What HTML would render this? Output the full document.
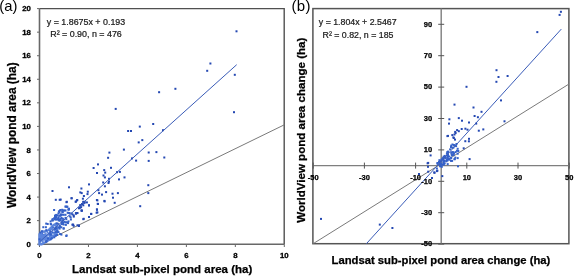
<!DOCTYPE html><html><head><meta charset="utf-8"><style>html,body{margin:0;padding:0;background:#fff;width:575px;height:276px;overflow:hidden}svg{display:block;will-change:transform}text{font-family:"Liberation Sans",sans-serif}</style></head><body>
<svg width="575" height="276" viewBox="0 0 575 276">
<rect width="575" height="276" fill="#fff"/>
<path d="M39.5 8.6H284.2V244.2" fill="none" stroke="#505050" stroke-width="1.4"/>
<path d="M39.5 8.6V244.2H284.3" fill="none" stroke="#686868" stroke-width="1.6"/>
<path d="M37 244.20H39.5M37 220.64H39.5M37 197.08H39.5M37 173.52H39.5M37 149.96H39.5M37 126.40H39.5M37 102.84H39.5M37 79.28H39.5M37 55.72H39.5M37 32.16H39.5M37 8.60H39.5M39.50 244.2V247M88.46 244.2V247M137.42 244.2V247M186.38 244.2V247M235.34 244.2V247M284.30 244.2V247" stroke="#686868" stroke-width="1"/>
<line x1="39.5" y1="244.2" x2="284.3" y2="124.8" stroke="#7a7a7a" stroke-width="1"/>
<polygon points="38.3,245.5 38.3,233.5 39.5,233 42,230.5 47,230 50,227 53,224 56,222.5 58,226 58.5,231 57,235.5 52,239.5 47,242.5 42,245.5" fill="#5b84dc"/>
<g fill="#2448b2">
<rect x="235.5" y="30.3" width="2.0" height="2.0"/>
<rect x="209.4" y="62.5" width="2.0" height="2.0"/>
<rect x="206.2" y="69.8" width="2.0" height="2.0"/>
<rect x="233.8" y="73.8" width="2.0" height="2.0"/>
<rect x="174.4" y="87.8" width="2.0" height="2.0"/>
<rect x="233.0" y="111.2" width="2.0" height="2.0"/>
<rect x="158.1" y="91.2" width="2.0" height="2.0"/>
<rect x="114.7" y="107.9" width="2.0" height="2.0"/>
<rect x="152.2" y="123.0" width="2.0" height="2.0"/>
<rect x="138.8" y="125.6" width="2.0" height="2.0"/>
<rect x="127.1" y="130.0" width="2.0" height="2.0"/>
<rect x="130.0" y="130.0" width="2.0" height="2.0"/>
<rect x="162.0" y="129.2" width="2.0" height="2.0"/>
<rect x="141.3" y="139.1" width="2.0" height="2.0"/>
<rect x="137.7" y="141.4" width="2.0" height="2.0"/>
<rect x="122.9" y="148.6" width="2.0" height="2.0"/>
<rect x="155.4" y="151.1" width="2.0" height="2.0"/>
<rect x="163.3" y="156.5" width="2.0" height="2.0"/>
<rect x="147.7" y="151.5" width="2.0" height="2.0"/>
<rect x="131.0" y="157.4" width="2.0" height="2.0"/>
<rect x="135.1" y="159.6" width="2.0" height="2.0"/>
<rect x="147.7" y="159.9" width="2.0" height="2.0"/>
<rect x="110.0" y="166.8" width="2.0" height="2.0"/>
<rect x="116.0" y="171.2" width="2.0" height="2.0"/>
<rect x="118.9" y="170.9" width="2.0" height="2.0"/>
<rect x="123.5" y="176.4" width="2.0" height="2.0"/>
<rect x="118.0" y="178.4" width="2.0" height="2.0"/>
<rect x="147.3" y="184.2" width="2.0" height="2.0"/>
<rect x="147.3" y="192.1" width="2.0" height="2.0"/>
<rect x="139.2" y="205.2" width="2.0" height="2.0"/>
<rect x="108.4" y="151.6" width="2.0" height="2.0"/>
<rect x="107.1" y="156.8" width="2.0" height="2.0"/>
<rect x="97.0" y="163.4" width="2.0" height="2.0"/>
<rect x="92.6" y="167.0" width="2.0" height="2.0"/>
<rect x="96.0" y="172.0" width="2.0" height="2.0"/>
<rect x="103.2" y="169.1" width="2.0" height="2.0"/>
<rect x="104.2" y="171.6" width="2.0" height="2.0"/>
<rect x="102.5" y="174.5" width="2.0" height="2.0"/>
<rect x="103.9" y="176.4" width="2.0" height="2.0"/>
<rect x="108.0" y="177.8" width="2.0" height="2.0"/>
<rect x="102.2" y="181.5" width="2.0" height="2.0"/>
<rect x="108.0" y="180.5" width="2.0" height="2.0"/>
<rect x="107.5" y="182.0" width="2.0" height="2.0"/>
<rect x="68.0" y="186.3" width="2.0" height="2.0"/>
<rect x="80.4" y="187.5" width="2.0" height="2.0"/>
<rect x="88.0" y="183.4" width="2.0" height="2.0"/>
<rect x="103.9" y="185.3" width="2.0" height="2.0"/>
<rect x="79.3" y="191.4" width="2.0" height="2.0"/>
<rect x="80.7" y="192.1" width="2.0" height="2.0"/>
<rect x="86.8" y="190.7" width="2.0" height="2.0"/>
<rect x="86.5" y="193.1" width="2.0" height="2.0"/>
<rect x="97.4" y="189.2" width="2.0" height="2.0"/>
<rect x="98.1" y="192.1" width="2.0" height="2.0"/>
<rect x="101.0" y="193.6" width="2.0" height="2.0"/>
<rect x="105.1" y="191.1" width="2.0" height="2.0"/>
<rect x="82.9" y="195.0" width="2.0" height="2.0"/>
<rect x="70.6" y="197.2" width="2.0" height="2.0"/>
<rect x="76.1" y="199.4" width="2.0" height="2.0"/>
<rect x="74.7" y="200.8" width="2.0" height="2.0"/>
<rect x="82.2" y="200.8" width="2.0" height="2.0"/>
<rect x="83.6" y="201.8" width="2.0" height="2.0"/>
<rect x="81.0" y="203.0" width="2.0" height="2.0"/>
<rect x="79.3" y="204.1" width="2.0" height="2.0"/>
<rect x="88.0" y="204.4" width="2.0" height="2.0"/>
<rect x="96.4" y="199.4" width="2.0" height="2.0"/>
<rect x="97.0" y="203.0" width="2.0" height="2.0"/>
<rect x="103.6" y="200.4" width="2.0" height="2.0"/>
<rect x="65.5" y="201.2" width="2.0" height="2.0"/>
<rect x="59.7" y="198.6" width="2.0" height="2.0"/>
<rect x="78.6" y="207.0" width="2.0" height="2.0"/>
<rect x="80.7" y="209.5" width="2.0" height="2.0"/>
<rect x="96.0" y="208.8" width="2.0" height="2.0"/>
<rect x="96.4" y="211.4" width="2.0" height="2.0"/>
<rect x="90.2" y="212.8" width="2.0" height="2.0"/>
<rect x="76.4" y="212.0" width="2.0" height="2.0"/>
<rect x="111.5" y="192.7" width="2.0" height="2.0"/>
<rect x="116.9" y="192.1" width="2.0" height="2.0"/>
<rect x="112.0" y="196.7" width="2.0" height="2.0"/>
<rect x="113.7" y="201.8" width="2.0" height="2.0"/>
<rect x="85.9" y="201.4" width="2.0" height="2.0"/>
<rect x="88.0" y="204.3" width="2.0" height="2.0"/>
<rect x="95.9" y="199.0" width="2.0" height="2.0"/>
<rect x="96.7" y="202.8" width="2.0" height="2.0"/>
<rect x="103.4" y="199.9" width="2.0" height="2.0"/>
<rect x="95.9" y="208.3" width="2.0" height="2.0"/>
<rect x="95.6" y="211.7" width="2.0" height="2.0"/>
<rect x="90.2" y="213.0" width="2.0" height="2.0"/>
<rect x="88.0" y="216.0" width="2.0" height="2.0"/>
<rect x="70.6" y="197.3" width="2.0" height="2.0"/>
<rect x="81.9" y="197.7" width="2.0" height="2.0"/>
<rect x="76.2" y="199.0" width="2.0" height="2.0"/>
<rect x="74.9" y="200.5" width="2.0" height="2.0"/>
<rect x="65.8" y="200.8" width="2.0" height="2.0"/>
<rect x="82.7" y="201.7" width="2.0" height="2.0"/>
<rect x="83.6" y="200.8" width="2.0" height="2.0"/>
<rect x="81.4" y="203.0" width="2.0" height="2.0"/>
<rect x="79.7" y="204.3" width="2.0" height="2.0"/>
<rect x="82.3" y="204.3" width="2.0" height="2.0"/>
<rect x="78.8" y="206.4" width="2.0" height="2.0"/>
<rect x="78.0" y="207.3" width="2.0" height="2.0"/>
<rect x="80.6" y="209.5" width="2.0" height="2.0"/>
<rect x="74.9" y="212.1" width="2.0" height="2.0"/>
<rect x="76.2" y="212.1" width="2.0" height="2.0"/>
<rect x="72.7" y="214.4" width="2.0" height="2.0"/>
<rect x="82.3" y="218.2" width="2.0" height="2.0"/>
<rect x="71.4" y="223.7" width="2.0" height="2.0"/>
<rect x="72.7" y="224.8" width="2.0" height="2.0"/>
<rect x="78.0" y="224.5" width="2.0" height="2.0"/>
<rect x="72.1" y="223.6" width="2.0" height="2.0"/>
<rect x="76.5" y="224.3" width="2.0" height="2.0"/>
<rect x="82.7" y="217.8" width="2.0" height="2.0"/>
<rect x="77.9" y="225.0" width="2.0" height="2.0"/>
<rect x="72.8" y="215.6" width="2.0" height="2.0"/>
<rect x="75.0" y="212.7" width="2.0" height="2.0"/>
<rect x="71.4" y="213.4" width="2.0" height="2.0"/>
<rect x="80.1" y="206.2" width="2.0" height="2.0"/>
<rect x="80.8" y="209.8" width="2.0" height="2.0"/>
<rect x="54.8" y="198.8" width="2.0" height="2.0"/>
<rect x="58.7" y="198.8" width="2.0" height="2.0"/>
<rect x="51.5" y="190.0" width="2.0" height="2.0"/>
</g>
<g fill="#3561c8">
<rect x="64.8" y="205.6" width="2.0" height="2.0"/>
<rect x="66.2" y="205.9" width="2.0" height="2.0"/>
<rect x="67.7" y="208.5" width="2.0" height="2.0"/>
<rect x="61.2" y="208.8" width="2.0" height="2.0"/>
<rect x="63.3" y="209.5" width="2.0" height="2.0"/>
<rect x="59.0" y="209.5" width="2.0" height="2.0"/>
<rect x="64.5" y="205.6" width="2.0" height="2.0"/>
<rect x="66.2" y="205.6" width="2.0" height="2.0"/>
<rect x="68.0" y="207.7" width="2.0" height="2.0"/>
<rect x="67.5" y="208.6" width="2.0" height="2.0"/>
<rect x="62.3" y="209.5" width="2.0" height="2.0"/>
<rect x="64.5" y="209.5" width="2.0" height="2.0"/>
<rect x="66.7" y="211.7" width="2.0" height="2.0"/>
<rect x="67.5" y="212.1" width="2.0" height="2.0"/>
<rect x="70.6" y="212.5" width="2.0" height="2.0"/>
<rect x="62.7" y="213.8" width="2.0" height="2.0"/>
<rect x="64.5" y="213.8" width="2.0" height="2.0"/>
<rect x="68.8" y="215.3" width="2.0" height="2.0"/>
<rect x="69.7" y="216.4" width="2.0" height="2.0"/>
<rect x="64.5" y="216.9" width="2.0" height="2.0"/>
<rect x="65.3" y="218.2" width="2.0" height="2.0"/>
<rect x="61.9" y="217.7" width="2.0" height="2.0"/>
<rect x="61.9" y="221.3" width="2.0" height="2.0"/>
<rect x="63.6" y="220.9" width="2.0" height="2.0"/>
<rect x="66.2" y="221.3" width="2.0" height="2.0"/>
<rect x="67.5" y="220.4" width="2.0" height="2.0"/>
<rect x="62.7" y="223.5" width="2.0" height="2.0"/>
<rect x="64.9" y="223.9" width="2.0" height="2.0"/>
<rect x="62.6" y="227.7" width="2.0" height="2.0"/>
<rect x="65.3" y="235.0" width="2.0" height="2.0"/>
<rect x="59.1" y="233.0" width="2.0" height="2.0"/>
<rect x="65.6" y="234.4" width="2.0" height="2.0"/>
<rect x="55.4" y="227.2" width="2.0" height="2.0"/>
<rect x="56.9" y="222.8" width="2.0" height="2.0"/>
<rect x="59.1" y="225.7" width="2.0" height="2.0"/>
<rect x="62.7" y="227.2" width="2.0" height="2.0"/>
<rect x="64.9" y="221.4" width="2.0" height="2.0"/>
<rect x="67.0" y="222.1" width="2.0" height="2.0"/>
<rect x="69.9" y="218.5" width="2.0" height="2.0"/>
<rect x="68.5" y="212.0" width="2.0" height="2.0"/>
<rect x="67.8" y="208.1" width="2.0" height="2.0"/>
<rect x="53.1" y="209.0" width="2.0" height="2.0"/>
<rect x="57.9" y="210.3" width="2.0" height="2.0"/>
<rect x="59.6" y="209.0" width="2.0" height="2.0"/>
<rect x="58.4" y="211.4" width="2.0" height="2.0"/>
<rect x="54.8" y="214.3" width="2.0" height="2.0"/>
<rect x="54.0" y="215.6" width="2.0" height="2.0"/>
<rect x="58.3" y="214.7" width="2.0" height="2.0"/>
<rect x="57.4" y="216.4" width="2.0" height="2.0"/>
<rect x="53.1" y="217.3" width="2.0" height="2.0"/>
<rect x="60.0" y="213.8" width="2.0" height="2.0"/>
<rect x="60.5" y="216.9" width="2.0" height="2.0"/>
<rect x="55.3" y="218.6" width="2.0" height="2.0"/>
<rect x="58.7" y="219.0" width="2.0" height="2.0"/>
<rect x="56.5" y="214.4" width="2.0" height="2.0"/>
<rect x="45.2" y="222.6" width="2.0" height="2.0"/>
<rect x="46.7" y="223.0" width="2.0" height="2.0"/>
<rect x="42.3" y="226.2" width="2.0" height="2.0"/>
<rect x="44.9" y="226.2" width="2.0" height="2.0"/>
<rect x="40.9" y="230.2" width="2.0" height="2.0"/>
<rect x="55.4" y="213.9" width="2.0" height="2.0"/>
<rect x="54.3" y="216.1" width="2.0" height="2.0"/>
<rect x="60.4" y="233.6" width="2.0" height="2.0"/>
<rect x="53.3" y="236.3" width="2.0" height="2.0"/>
<rect x="60.7" y="223.1" width="2.0" height="2.0"/>
<rect x="58.6" y="227.6" width="2.0" height="2.0"/>
<rect x="61.4" y="222.9" width="2.0" height="2.0"/>
<rect x="55.1" y="216.0" width="2.0" height="2.0"/>
<rect x="51.9" y="219.4" width="2.0" height="2.0"/>
<rect x="57.4" y="212.4" width="2.0" height="2.0"/>
<rect x="57.5" y="217.2" width="2.0" height="2.0"/>
<rect x="62.3" y="219.1" width="2.0" height="2.0"/>
<rect x="56.5" y="218.1" width="2.0" height="2.0"/>
<rect x="54.2" y="216.8" width="2.0" height="2.0"/>
<rect x="59.8" y="213.5" width="2.0" height="2.0"/>
<rect x="60.6" y="221.5" width="2.0" height="2.0"/>
<rect x="61.2" y="210.8" width="2.0" height="2.0"/>
<rect x="61.9" y="222.0" width="2.0" height="2.0"/>
<rect x="59.9" y="217.8" width="2.0" height="2.0"/>
<rect x="59.5" y="214.8" width="2.0" height="2.0"/>
<rect x="49.6" y="220.4" width="2.0" height="2.0"/>
<rect x="54.1" y="215.5" width="2.0" height="2.0"/>
<rect x="54.7" y="217.7" width="2.0" height="2.0"/>
<rect x="49.7" y="222.9" width="2.0" height="2.0"/>
<rect x="54.0" y="218.4" width="2.0" height="2.0"/>
<rect x="57.5" y="219.2" width="2.0" height="2.0"/>
<rect x="59.2" y="219.2" width="2.0" height="2.0"/>
<rect x="57.9" y="226.6" width="2.0" height="2.0"/>
<rect x="61.8" y="211.2" width="2.0" height="2.0"/>
<rect x="58.8" y="224.5" width="2.0" height="2.0"/>
<rect x="58.5" y="219.7" width="2.0" height="2.0"/>
<rect x="54.0" y="214.7" width="2.0" height="2.0"/>
<rect x="51.2" y="219.3" width="2.0" height="2.0"/>
<rect x="60.3" y="226.3" width="2.0" height="2.0"/>
<rect x="61.2" y="220.0" width="2.0" height="2.0"/>
<rect x="61.1" y="213.7" width="2.0" height="2.0"/>
<rect x="50.1" y="223.4" width="2.0" height="2.0"/>
<rect x="51.6" y="218.1" width="2.0" height="2.0"/>
<rect x="57.5" y="231.1" width="2.0" height="2.0"/>
<rect x="55.7" y="222.3" width="2.0" height="2.0"/>
<rect x="58.5" y="225.7" width="2.0" height="2.0"/>
<rect x="58.1" y="218.4" width="2.0" height="2.0"/>
<rect x="54.3" y="227.9" width="2.0" height="2.0"/>
<rect x="45.3" y="229.1" width="2.0" height="2.0"/>
<rect x="49.6" y="238.3" width="2.0" height="2.0"/>
<rect x="45.7" y="240.2" width="2.0" height="2.0"/>
<rect x="47.0" y="237.6" width="2.0" height="2.0"/>
<rect x="49.3" y="233.2" width="2.0" height="2.0"/>
<rect x="49.8" y="233.6" width="2.0" height="2.0"/>
<rect x="52.6" y="226.5" width="2.0" height="2.0"/>
<rect x="56.1" y="231.1" width="2.0" height="2.0"/>
<rect x="50.8" y="237.2" width="2.0" height="2.0"/>
<rect x="38.5" y="238.3" width="2.0" height="2.0"/>
<rect x="52.1" y="231.3" width="2.0" height="2.0"/>
<rect x="49.2" y="230.5" width="2.0" height="2.0"/>
<rect x="42.5" y="232.2" width="2.0" height="2.0"/>
<rect x="39.3" y="231.5" width="2.0" height="2.0"/>
<rect x="51.7" y="230.1" width="2.0" height="2.0"/>
<rect x="54.7" y="234.6" width="2.0" height="2.0"/>
<rect x="45.1" y="240.8" width="2.0" height="2.0"/>
<rect x="56.1" y="234.0" width="2.0" height="2.0"/>
<rect x="53.7" y="227.6" width="2.0" height="2.0"/>
<rect x="56.2" y="229.9" width="2.0" height="2.0"/>
<rect x="54.0" y="231.1" width="2.0" height="2.0"/>
</g>
<g fill="#dfe8f8">
<rect x="43.1" y="232.8" width="1.2" height="1.2"/>
<rect x="52.3" y="233.6" width="1.2" height="1.2"/>
<rect x="47.6" y="235.7" width="1.2" height="1.2"/>
<rect x="45.6" y="232.2" width="1.2" height="1.2"/>
<rect x="53.3" y="231.0" width="1.2" height="1.2"/>
<rect x="43.5" y="240.5" width="1.2" height="1.2"/>
<rect x="52.6" y="230.4" width="1.2" height="1.2"/>
<rect x="46.7" y="233.5" width="1.2" height="1.2"/>
<rect x="53.7" y="226.1" width="1.2" height="1.2"/>
<rect x="43.3" y="232.7" width="1.2" height="1.2"/>
<rect x="48.0" y="231.1" width="1.2" height="1.2"/>
<rect x="40.9" y="241.7" width="1.2" height="1.2"/>
<rect x="51.0" y="230.0" width="1.2" height="1.2"/>
<rect x="52.8" y="228.6" width="1.2" height="1.2"/>
</g>
<line x1="39.5" y1="241.9" x2="236.7" y2="64.7" stroke="#3a5cb8" stroke-width="1"/>
<g font-size="7.8" font-weight="bold" fill="#000" stroke="#000" stroke-width="0.3" text-anchor="end">
<text x="30.9" y="246.80">0</text>
<text x="30.9" y="223.24">2</text>
<text x="30.9" y="199.68">4</text>
<text x="30.9" y="176.12">6</text>
<text x="30.9" y="152.56">8</text>
<text x="30.9" y="129.00">10</text>
<text x="30.9" y="105.44">12</text>
<text x="30.9" y="81.88">14</text>
<text x="30.9" y="58.32">16</text>
<text x="30.9" y="34.76">18</text>
<text x="30.9" y="11.20">20</text>
</g>
<g font-size="7.8" font-weight="bold" fill="#000" stroke="#000" stroke-width="0.3" text-anchor="middle">
<text x="39.50" y="258.3">0</text>
<text x="88.46" y="258.3">2</text>
<text x="137.42" y="258.3">4</text>
<text x="186.38" y="258.3">6</text>
<text x="235.34" y="258.3">8</text>
<text x="284.30" y="258.3">10</text>
</g>
<text x="162.15" y="273.2" font-size="11.5" font-weight="bold" text-anchor="middle" fill="#000" stroke="#000" stroke-width="0.25">Landsat sub-pixel pond area (ha)</text>
<text transform="translate(16.2 135.15) rotate(-90)" font-size="11.9" font-weight="bold" text-anchor="middle" fill="#000" stroke="#000" stroke-width="0.25">WorldView pond area (ha)</text>
<text x="86" y="24.8" font-size="8.9" text-anchor="middle" fill="#1a1a1a" stroke="#1a1a1a" stroke-width="0.22">y = 1.8675x + 0.193</text>
<text x="86" y="37" font-size="8.9" text-anchor="middle" fill="#1a1a1a" stroke="#1a1a1a" stroke-width="0.22">R² = 0.90, n = 476</text>
<text x="-0.7" y="10.9" font-size="14.8" letter-spacing="0.05" fill="#000">(a)</text>
<rect x="312.9" y="8.6" width="256" height="235.1" fill="none" stroke="#555" stroke-width="1.5"/>
<path d="M313 165.6H569M441.2 8.6V243.7" fill="none" stroke="#7f7f7f" stroke-width="1.4"/>
<path d="M313.20 162.6V168.6M364.40 162.6V168.6M415.60 162.6V168.6M466.80 162.6V168.6M518.00 162.6V168.6M569.20 162.6V168.6M438.2 244.10H444.2M438.2 212.70H444.2M438.2 181.30H444.2M438.2 149.90H444.2M438.2 118.50H444.2M438.2 87.10H444.2M438.2 55.70H444.2M438.2 24.30H444.2" stroke="#555" stroke-width="1"/>
<line x1="313.3" y1="243.6" x2="569" y2="84" stroke="#7a7a7a" stroke-width="1"/>
<g fill="#2448b2">
<rect x="559.9" y="10.8" width="2.0" height="2.0"/>
<rect x="558.6" y="13.9" width="2.0" height="2.0"/>
<rect x="536.3" y="31.1" width="2.0" height="2.0"/>
<rect x="506.6" y="75.0" width="2.0" height="2.0"/>
<rect x="495.5" y="69.2" width="2.0" height="2.0"/>
<rect x="497.5" y="76.0" width="2.0" height="2.0"/>
<rect x="495.4" y="80.8" width="2.0" height="2.0"/>
<rect x="465.5" y="85.8" width="2.0" height="2.0"/>
<rect x="500.0" y="99.4" width="2.0" height="2.0"/>
<rect x="472.5" y="106.5" width="2.0" height="2.0"/>
<rect x="480.5" y="110.8" width="2.0" height="2.0"/>
<rect x="473.6" y="115.0" width="2.0" height="2.0"/>
<rect x="476.9" y="116.2" width="2.0" height="2.0"/>
<rect x="503.5" y="120.3" width="2.0" height="2.0"/>
<rect x="482.3" y="128.4" width="2.0" height="2.0"/>
<rect x="453.5" y="103.6" width="2.0" height="2.0"/>
<rect x="448.4" y="118.3" width="2.0" height="2.0"/>
<rect x="448.0" y="122.6" width="2.0" height="2.0"/>
<rect x="457.8" y="117.1" width="2.0" height="2.0"/>
<rect x="461.0" y="119.7" width="2.0" height="2.0"/>
<rect x="468.0" y="121.5" width="2.0" height="2.0"/>
<rect x="475.2" y="122.6" width="2.0" height="2.0"/>
<rect x="460.7" y="128.0" width="2.0" height="2.0"/>
<rect x="464.4" y="127.7" width="2.0" height="2.0"/>
<rect x="466.5" y="128.7" width="2.0" height="2.0"/>
<rect x="456.1" y="129.1" width="2.0" height="2.0"/>
<rect x="457.8" y="130.2" width="2.0" height="2.0"/>
<rect x="454.2" y="130.9" width="2.0" height="2.0"/>
<rect x="477.8" y="129.7" width="2.0" height="2.0"/>
<rect x="447.0" y="134.9" width="2.0" height="2.0"/>
<rect x="451.3" y="134.1" width="2.0" height="2.0"/>
<rect x="453.5" y="133.5" width="2.0" height="2.0"/>
<rect x="452.8" y="137.0" width="2.0" height="2.0"/>
<rect x="468.0" y="137.8" width="2.0" height="2.0"/>
<rect x="446.4" y="135.1" width="2.0" height="2.0"/>
<rect x="452.4" y="136.4" width="2.0" height="2.0"/>
<rect x="454.0" y="138.6" width="2.0" height="2.0"/>
<rect x="454.6" y="132.1" width="2.0" height="2.0"/>
<rect x="464.3" y="140.2" width="2.0" height="2.0"/>
<rect x="467.9" y="140.3" width="2.0" height="2.0"/>
<rect x="462.7" y="147.3" width="2.0" height="2.0"/>
<rect x="468.6" y="158.1" width="2.0" height="2.0"/>
<rect x="429.6" y="154.4" width="2.0" height="2.0"/>
<rect x="426.6" y="162.3" width="2.0" height="2.0"/>
<rect x="427.0" y="165.8" width="2.0" height="2.0"/>
<rect x="436.4" y="169.7" width="2.0" height="2.0"/>
<rect x="433.5" y="171.8" width="2.0" height="2.0"/>
<rect x="427.2" y="170.7" width="2.0" height="2.0"/>
<rect x="441.3" y="175.1" width="2.0" height="2.0"/>
<rect x="320.0" y="217.9" width="2.0" height="2.0"/>
<rect x="378.8" y="223.6" width="2.0" height="2.0"/>
<rect x="391.4" y="227.0" width="2.0" height="2.0"/>
<rect x="418.0" y="173.0" width="2.0" height="2.0"/>
<rect x="427.2" y="161.9" width="2.0" height="2.0"/>
<rect x="435.9" y="170.1" width="2.0" height="2.0"/>
<rect x="433.3" y="171.4" width="2.0" height="2.0"/>
<rect x="431.0" y="177.0" width="2.0" height="2.0"/>
</g>
<g fill="#3561c8">
<rect x="450.2" y="144.6" width="2.0" height="2.0"/>
<rect x="452.9" y="144.0" width="2.0" height="2.0"/>
<rect x="455.1" y="145.1" width="2.0" height="2.0"/>
<rect x="451.3" y="146.8" width="2.0" height="2.0"/>
<rect x="449.1" y="148.4" width="2.0" height="2.0"/>
<rect x="456.7" y="147.8" width="2.0" height="2.0"/>
<rect x="447.0" y="150.6" width="2.0" height="2.0"/>
<rect x="445.9" y="152.7" width="2.0" height="2.0"/>
<rect x="450.2" y="151.7" width="2.0" height="2.0"/>
<rect x="443.7" y="154.9" width="2.0" height="2.0"/>
<rect x="442.1" y="157.1" width="2.0" height="2.0"/>
<rect x="444.8" y="157.1" width="2.0" height="2.0"/>
<rect x="440.4" y="158.7" width="2.0" height="2.0"/>
<rect x="439.3" y="160.3" width="2.0" height="2.0"/>
<rect x="457.0" y="165.3" width="2.0" height="2.0"/>
<rect x="436.4" y="162.0" width="2.0" height="2.0"/>
<rect x="438.0" y="161.0" width="2.0" height="2.0"/>
<rect x="439.7" y="160.4" width="2.0" height="2.0"/>
<rect x="439.1" y="165.3" width="2.0" height="2.0"/>
<rect x="440.8" y="165.8" width="2.0" height="2.0"/>
<rect x="435.9" y="167.5" width="2.0" height="2.0"/>
<rect x="441.3" y="157.7" width="2.0" height="2.0"/>
<rect x="442.9" y="156.6" width="2.0" height="2.0"/>
<rect x="444.6" y="155.5" width="2.0" height="2.0"/>
<rect x="446.7" y="153.3" width="2.0" height="2.0"/>
<rect x="443.5" y="159.9" width="2.0" height="2.0"/>
<rect x="446.2" y="151.2" width="2.0" height="2.0"/>
<rect x="442.9" y="162.6" width="2.0" height="2.0"/>
<rect x="446.7" y="163.1" width="2.0" height="2.0"/>
<rect x="436.6" y="162.9" width="2.0" height="2.0"/>
<rect x="438.5" y="163.5" width="2.0" height="2.0"/>
<rect x="455.9" y="149.8" width="2.0" height="2.0"/>
<rect x="454.6" y="151.1" width="2.0" height="2.0"/>
<rect x="452.8" y="153.3" width="2.0" height="2.0"/>
<rect x="453.7" y="158.1" width="2.0" height="2.0"/>
<rect x="447.2" y="158.1" width="2.0" height="2.0"/>
<rect x="445.4" y="160.3" width="2.0" height="2.0"/>
<rect x="443.7" y="162.4" width="2.0" height="2.0"/>
<rect x="442.8" y="163.7" width="2.0" height="2.0"/>
<rect x="451.5" y="143.5" width="2.0" height="2.0"/>
<rect x="454.0" y="144.5" width="2.0" height="2.0"/>
<rect x="455.5" y="143.0" width="2.0" height="2.0"/>
<rect x="450.0" y="146.0" width="2.0" height="2.0"/>
<rect x="452.5" y="146.5" width="2.0" height="2.0"/>
<rect x="457.3" y="150.0" width="2.0" height="2.0"/>
<rect x="452.9" y="152.2" width="2.0" height="2.0"/>
<rect x="456.7" y="152.7" width="2.0" height="2.0"/>
<rect x="448.0" y="155.5" width="2.0" height="2.0"/>
<rect x="450.2" y="157.1" width="2.0" height="2.0"/>
<rect x="446.4" y="159.5" width="2.0" height="2.0"/>
<rect x="448.6" y="158.7" width="2.0" height="2.0"/>
<rect x="453.5" y="158.2" width="2.0" height="2.0"/>
<rect x="456.7" y="157.1" width="2.0" height="2.0"/>
<rect x="445.7" y="158.8" width="2.0" height="2.0"/>
<rect x="447.8" y="157.7" width="2.0" height="2.0"/>
<rect x="450.0" y="156.6" width="2.0" height="2.0"/>
<rect x="451.1" y="153.9" width="2.0" height="2.0"/>
<rect x="452.2" y="151.2" width="2.0" height="2.0"/>
<rect x="450.0" y="159.9" width="2.0" height="2.0"/>
<rect x="451.1" y="159.9" width="2.0" height="2.0"/>
<rect x="454.3" y="156.6" width="2.0" height="2.0"/>
<rect x="441.7" y="158.4" width="2.0" height="2.0"/>
<rect x="441.5" y="163.7" width="2.0" height="2.0"/>
<rect x="442.4" y="160.0" width="2.0" height="2.0"/>
<rect x="450.6" y="153.5" width="2.0" height="2.0"/>
<rect x="440.2" y="163.6" width="2.0" height="2.0"/>
<rect x="438.4" y="159.2" width="2.0" height="2.0"/>
<rect x="439.4" y="164.7" width="2.0" height="2.0"/>
<rect x="439.9" y="163.2" width="2.0" height="2.0"/>
<rect x="442.6" y="158.3" width="2.0" height="2.0"/>
<rect x="446.9" y="155.2" width="2.0" height="2.0"/>
<rect x="442.6" y="155.7" width="2.0" height="2.0"/>
<rect x="451.2" y="154.3" width="2.0" height="2.0"/>
<rect x="446.8" y="154.2" width="2.0" height="2.0"/>
<rect x="452.0" y="154.0" width="2.0" height="2.0"/>
<rect x="450.9" y="151.5" width="2.0" height="2.0"/>
<rect x="446.4" y="159.1" width="2.0" height="2.0"/>
<rect x="442.6" y="161.3" width="2.0" height="2.0"/>
<rect x="451.4" y="151.3" width="2.0" height="2.0"/>
<rect x="438.4" y="161.8" width="2.0" height="2.0"/>
<rect x="446.6" y="156.9" width="2.0" height="2.0"/>
<rect x="440.4" y="162.6" width="2.0" height="2.0"/>
<rect x="447.1" y="151.2" width="2.0" height="2.0"/>
<rect x="444.1" y="156.4" width="2.0" height="2.0"/>
<rect x="447.0" y="154.0" width="2.0" height="2.0"/>
</g>
<line x1="366.4" y1="243.7" x2="561.3" y2="29.1" stroke="#3a5cb8" stroke-width="1"/>
<g font-size="7.5" font-weight="bold" fill="#000" stroke="#000" stroke-width="0.25" text-anchor="middle">
<text x="313.20" y="179.6">-50</text>
<text x="364.40" y="179.6">-30</text>
<text x="415.60" y="179.6">-10</text>
<text x="466.80" y="179.6">10</text>
<text x="518.00" y="179.6">30</text>
<text x="569.20" y="179.6">50</text>
</g>
<g font-size="7.5" font-weight="bold" fill="#000" stroke="#000" stroke-width="0.25" text-anchor="end">
<text x="432.2" y="246.40">-50</text>
<text x="432.2" y="215.00">-30</text>
<text x="432.2" y="183.60">-10</text>
<text x="432.2" y="152.20">10</text>
<text x="432.2" y="120.80">30</text>
<text x="432.2" y="89.40">50</text>
<text x="432.2" y="58.00">70</text>
<text x="432.2" y="26.60">90</text>
</g>
<text x="440.95" y="264.1" font-size="11.25" font-weight="bold" text-anchor="middle" fill="#000" stroke="#000" stroke-width="0.25">Landsat sub-pixel pond area change (ha)</text>
<text transform="translate(304.6 130.2) rotate(-90)" font-size="11.55" font-weight="bold" text-anchor="middle" fill="#000" stroke="#000" stroke-width="0.25">WorldView pond area change (ha)</text>
<text x="357.7" y="25.3" font-size="8.8" text-anchor="middle" fill="#1a1a1a" stroke="#1a1a1a" stroke-width="0.22">y = 1.804x + 2.5467</text>
<text x="358" y="37.8" font-size="8.8" text-anchor="middle" fill="#1a1a1a" stroke="#1a1a1a" stroke-width="0.22">R² = 0.82, n = 185</text>
<text x="291.5" y="11.0" font-size="15" letter-spacing="0.3" fill="#000">(b)</text>
</svg></body></html>
